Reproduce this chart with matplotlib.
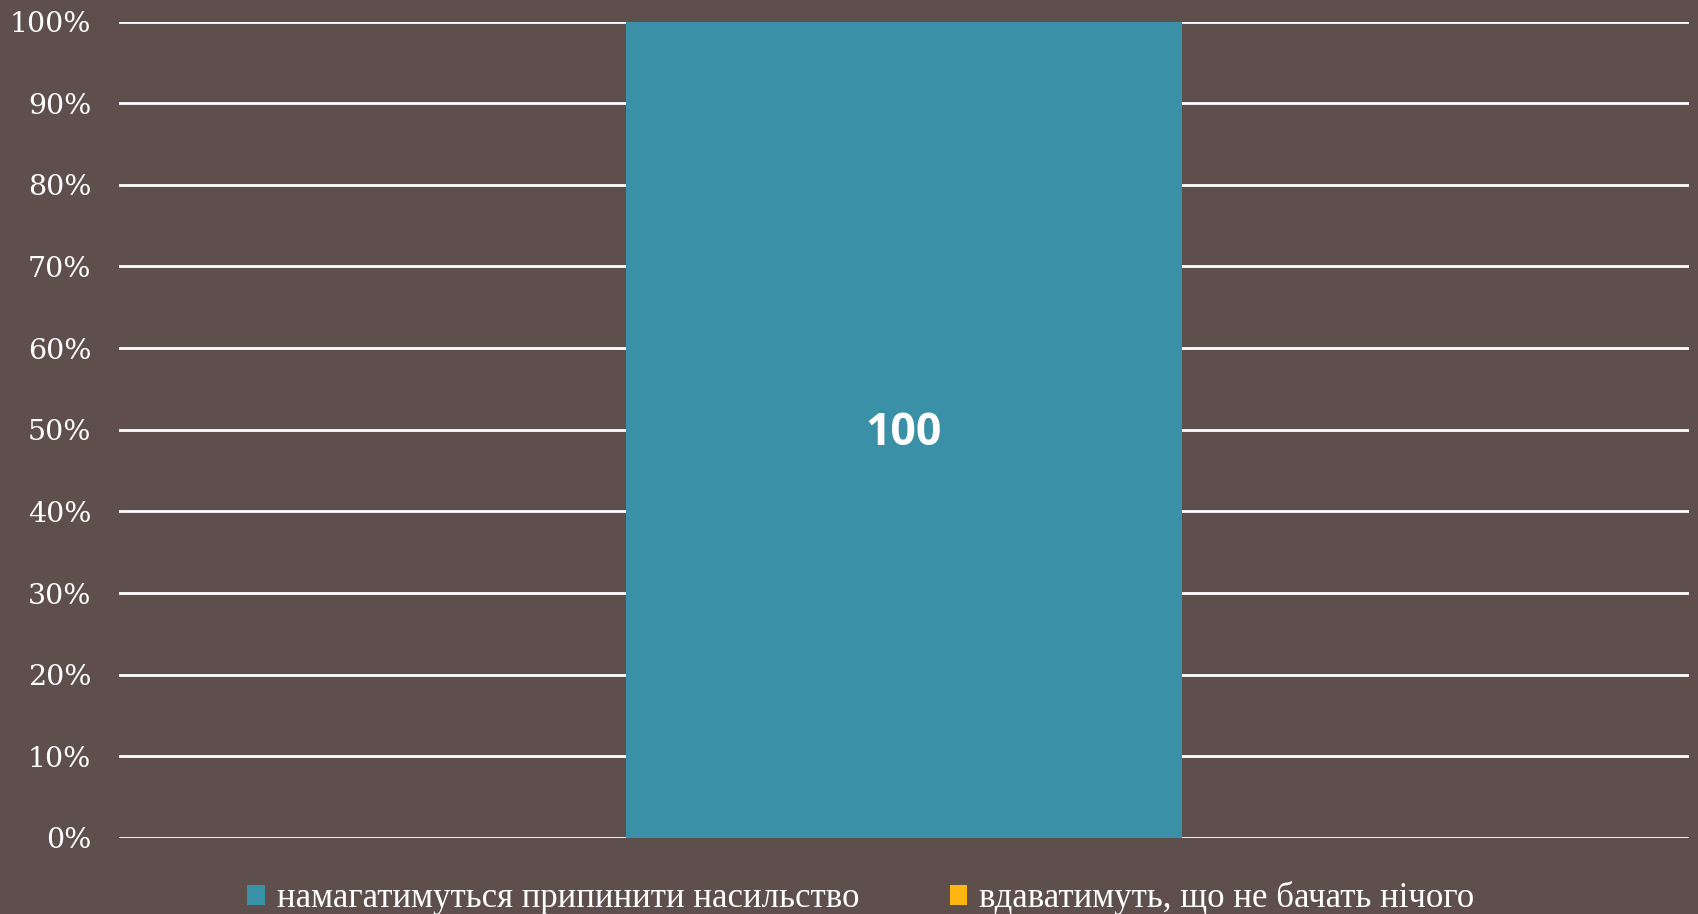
import matplotlib.pyplot as plt
from matplotlib.ticker import PercentFormatter

categories = ['']
series_names = ['намагатимуться припинити насильство', 'вдаватимуть, що не бачать нічого']
stop_violence = [100]
pretend_nothing = [0]
yticks = [0, 10, 20, 30, 40, 50, 60, 70, 80, 90, 100]

bg = '#5f4f4c'
colors = ['#3a91a7', '#ffb612']

fig = plt.figure(figsize=(16.98, 9.14), dpi=100, facecolor=bg)
ax = fig.add_axes([0.0701, 0.0832, 0.9246, 0.8932])
ax.set_facecolor(bg)

x = range(len(categories))
bars1 = ax.bar(x, stop_violence, width=0.354, color=colors[0], label=series_names[0], zorder=3)
bars2 = ax.bar(x, pretend_nothing, width=0.354, bottom=stop_violence, color=colors[1],
               label=series_names[1], zorder=3)

for b, v in zip(bars1, stop_violence):
    ax.text(b.get_x() + b.get_width() / 2, v / 2 - 0.5, str(v), ha='center', va='center',
            color='white', fontsize=32, fontweight='bold', family='Open Sans', zorder=4)

ax.set_xlim(-0.5, 0.5)
ax.set_ylim(0, 100)
ax.set_yticks(yticks)
ax.yaxis.set_major_formatter(PercentFormatter(decimals=0))
ax.set_xticks([])
ax.grid(axis='y', color='white', linewidth=2, zorder=1)
ax.tick_params(axis='y', length=0, pad=20, labelsize=20.5, labelcolor='white')
for lbl in ax.get_yticklabels():
    lbl.set_family('DejaVu Serif')
for s in ax.spines.values():
    s.set_visible(False)

fig.legend(handles=[bars1, bars2], loc='center', bbox_to_anchor=(0.507, 0.0175),
           ncol=2, frameon=False, labelcolor='white',
           prop={'family': 'Liberation Serif', 'size': 25},
           handlelength=0.5, handleheight=0.5, handletextpad=0.35, columnspacing=2.6)

fig.savefig('out.png', dpi=100, facecolor=bg)
